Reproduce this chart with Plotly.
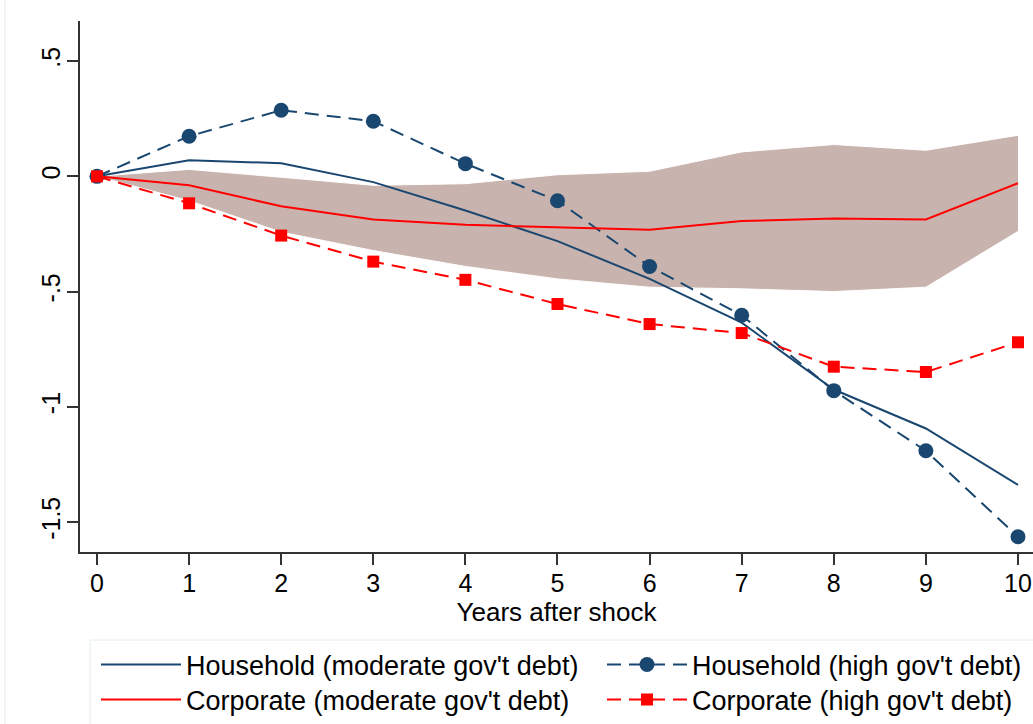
import plotly.graph_objects as go

years = [0, 1, 2, 3, 4, 5, 6, 7, 8, 9, 10]
household_moderate = [0, 0.070, 0.057, -0.025, -0.148, -0.281, -0.445, -0.635, -0.925, -1.094, -1.339]
household_high = [0, 0.174, 0.287, 0.239, 0.055, -0.106, -0.391, -0.603, -0.930, -1.191, -1.564]
corporate_moderate = [0, -0.039, -0.130, -0.187, -0.210, -0.222, -0.232, -0.194, -0.183, -0.187, -0.030]
corporate_high = [0, -0.117, -0.257, -0.370, -0.449, -0.554, -0.641, -0.680, -0.826, -0.849, -0.720]
band_upper = [0, 0.030, -0.004, -0.039, -0.032, 0.007, 0.022, 0.106, 0.138, 0.113, 0.178]
band_lower = [0, -0.106, -0.242, -0.322, -0.391, -0.445, -0.481, -0.488, -0.500, -0.481, -0.239]

y_tickvals = [-1.5, -1, -0.5, 0, 0.5]
y_ticktext = ["-1.5", "-1", "-.5", "0", ".5"]

NAVY = "#1A476F"
RED = "#FF0000"
BAND = "#C9B3AE"
FONT = "Liberation Sans, Arial, sans-serif"

# plot area geometry (pixels)
L, R, T, B = 80, 0, 21, 172
W, H = 1033, 724
PW, PH = W - L - R, H - T - B


def px_x(px):
    return (px - L) / PW


def px_y(py):
    return (H - B - py) / PH


fig = go.Figure()
fig.add_trace(go.Scatter(x=years, y=band_upper, mode="lines",
                         line=dict(color="white", width=1), showlegend=False, hoverinfo="skip"))
fig.add_trace(go.Scatter(x=years, y=band_lower, mode="lines", fill="tonexty",
                         fillcolor=BAND, line=dict(color="white", width=1),
                         showlegend=False, hoverinfo="skip"))
fig.add_trace(go.Scatter(x=years, y=household_moderate, mode="lines",
                         name="Household (moderate gov't debt)", legend="legend",
                         line=dict(color=NAVY, width=2)))
fig.add_trace(go.Scatter(x=years, y=household_high, mode="lines+markers",
                         name="Household (high gov't debt)", legend="legend2",
                         line=dict(color=NAVY, width=2, dash="14px,8px"),
                         marker=dict(symbol="circle", size=15, color=NAVY)))
fig.add_trace(go.Scatter(x=years, y=corporate_moderate, mode="lines",
                         name="Corporate (moderate gov't debt)", legend="legend3",
                         line=dict(color=RED, width=2)))
fig.add_trace(go.Scatter(x=years, y=corporate_high, mode="lines+markers",
                         name="Corporate (high gov't debt)", legend="legend4",
                         line=dict(color=RED, width=2, dash="14px,8px"),
                         marker=dict(symbol="square", size=12, color=RED)))

legend_common = dict(orientation="v", yanchor="middle", xanchor="left",
                     font=dict(size=27), borderwidth=0, itemwidth=80,
                     bgcolor="rgba(0,0,0,0)")
COL1, COL2 = 96, 602
ROW1, ROW2 = 665, 700

fig.update_layout(
    width=W, height=H,
    margin=dict(l=L, r=R, t=T, b=B, autoexpand=False),
    paper_bgcolor="white", plot_bgcolor="white",
    font=dict(family=FONT, color="black", size=25),
    xaxis=dict(range=[-0.1846, 10.163], tickvals=years, ticks="outside", ticklen=11,
               tickwidth=1.5, tickcolor="#333", showline=True, linecolor="#333", linewidth=1.5,
               ticklabelstandoff=-3,
               showgrid=False, zeroline=False, tickfont=dict(size=25),
               title=dict(text="Years after shock", font=dict(size=26), standoff=4)),
    yaxis=dict(range=[-1.630, 0.674], tickvals=y_tickvals, ticktext=y_ticktext,
               ticks="outside", ticklen=11, tickwidth=1.5, tickcolor="#333",
               showline=True, linecolor="#333", linewidth=1.5, tickangle=-90,
               ticklabelstandoff=-3,
               showgrid=False, zeroline=False, tickfont=dict(size=25)),
    legend=dict(x=px_x(COL1), y=px_y(ROW1), **legend_common),
    legend2=dict(x=px_x(COL2), y=px_y(ROW1), **legend_common),
    legend3=dict(x=px_x(COL1), y=px_y(ROW2), **legend_common),
    legend4=dict(x=px_x(COL2), y=px_y(ROW2), **legend_common),
    shapes=[
        dict(type="line", xref="paper", yref="paper", x0=px_x(5), x1=px_x(5),
             y0=px_y(740), y1=px_y(-20), line=dict(color="#EEF3F4", width=1.5)),
        dict(type="rect", xref="paper", yref="paper", x0=px_x(90), x1=px_x(1045),
             y0=px_y(740), y1=px_y(640), line=dict(color="#E3ECEE", width=1),
             fillcolor="rgba(0,0,0,0)", layer="below"),
    ],
)

fig.write_html("out.html", config={"displayModeBar": False},
               post_script="document.body.style.margin='0';document.body.style.overflow='hidden';")
